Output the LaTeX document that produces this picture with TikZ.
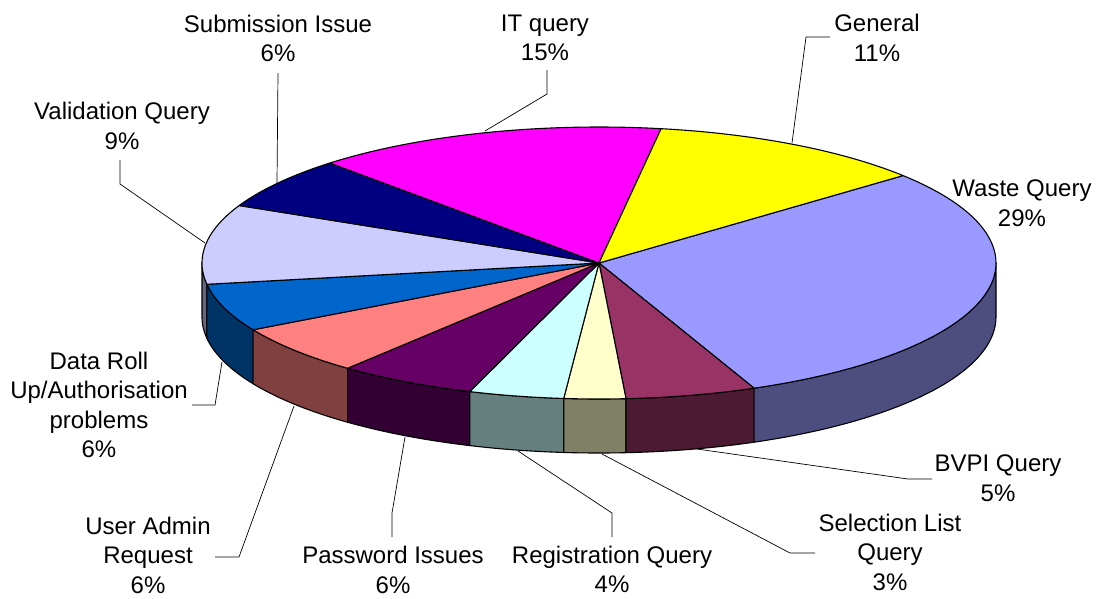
\documentclass[tikz,border=0pt]{standalone}
\usepackage{fontspec}
\setmainfont{Liberation Sans}
\definecolor{cwaste}{HTML}{9999FF}\definecolor{swaste}{HTML}{4D4D80}
\definecolor{cbvpi}{HTML}{993366}\definecolor{sbvpi}{HTML}{4D1A33}
\definecolor{csel}{HTML}{FFFFCC}\definecolor{ssel}{HTML}{808066}
\definecolor{creg}{HTML}{CCFFFF}\definecolor{sreg}{HTML}{668080}
\definecolor{cpass}{HTML}{660066}\definecolor{spass}{HTML}{330033}
\definecolor{cuser}{HTML}{FF8080}\definecolor{suser}{HTML}{804040}
\definecolor{cdata}{HTML}{0066CC}\definecolor{sdata}{HTML}{003366}
\definecolor{cvalid}{HTML}{CCCCFF}\definecolor{svalid}{HTML}{666680}
\definecolor{csub}{HTML}{000080}
\definecolor{cit}{HTML}{FF00FF}
\definecolor{cgen}{HTML}{FFFF00}
\def\cx{599}\def\cy{263}\def\rx{397}\def\ry{136}\def\dep{54}
\newcommand\slicetop[3]{\filldraw[fill=#3, piedge] (\cx,\cy) -- plot[domain=#1:#2, samples=60] ({\cx+\rx*cos(\x)},{\cy-\ry*sin(\x)}) -- cycle;}
\newcommand\sidewall[3]{\filldraw[fill=#3, piedge] plot[domain=#1:#2, samples=40] ({\cx+\rx*cos(\x)},{\cy-\ry*sin(\x)}) -- plot[domain=#2:#1, samples=40] ({\cx+\rx*cos(\x)},{\cy+\dep-\ry*sin(\x)}) -- cycle;}
\begin{document}
\begin{tikzpicture}[x=1pt,y=-1pt,
  piedge/.style={draw=black, line width=1.1pt, line join=round},
  leader/.style={draw=black, line width=0.7pt},
  lbl/.style={align=center, inner sep=0pt, font=\fontsize{24}{29.5}\selectfont}]
\useasboundingbox (0,0) rectangle (1103,598);
% side walls
\sidewall{-180}{-171}{svalid}
\sidewall{-171}{-150.6}{sdata}
\sidewall{-150.6}{-129.3}{suser}
\sidewall{-129.3}{-109}{spass}
\sidewall{-109}{-95.1}{sreg}
\sidewall{-95.1}{-86.1}{ssel}
\sidewall{-86.1}{-67}{sbvpi}
\sidewall{-67}{0}{swaste}
% top slices
\slicetop{40}{-67}{cwaste}
\slicetop{-67}{-86.1}{cbvpi}
\slicetop{-86.1}{-95.1}{csel}
\slicetop{-95.1}{-109}{creg}
\slicetop{-109}{-129.3}{cpass}
\slicetop{-129.3}{-150.6}{cuser}
\slicetop{-150.6}{-171}{cdata}
\slicetop{-171}{-205}{cvalid}
\slicetop{-205}{-227.3}{csub}
\slicetop{-227.3}{-279}{cit}
\slicetop{-279}{-320}{cgen}
% labels
\node[lbl] (lsub) at (278,38.5) {Submission Issue\\6\%};
\node[lbl] (lit) at (545,38) {IT query\\15\%};
\node[lbl] (lgen) at (877,38) {General\\11\%};
\node[lbl] (lwaste) at (1022,203) {Waste Query\\29\%};
\node[lbl] (lval) at (122,126) {Validation Query\\9\%};
\node[lbl] (ldata) at (99,405) {Data Roll\\Up/Authorisation\\problems\\6\%};
\node[lbl] (luser) at (148,555) {User Admin\\Request\\6\%};
\node[lbl] (lpass) at (393,570) {Password Issues\\6\%};
\node[lbl] (lreg) at (612,569.5) {Registration Query\\4\%};
\node[lbl] (lsel) at (890,552) {Selection List\\Query\\3\%};
\node[lbl] (lbvpi) at (998,478) {BVPI Query\\5\%};
% leader coordinates
\coordinate (subS) at (278,73); \coordinate (subE) at (277,183);
\coordinate (itS) at (547,70); \coordinate (itK) at (547,94); \coordinate (itE) at (485,131);
\coordinate (genS) at (830,37); \coordinate (genK) at (806,37); \coordinate (genE) at (792,143);
\coordinate (valS) at (120,160); \coordinate (valK) at (120,184); \coordinate (valE) at (205,243);
\coordinate (datS) at (192,405); \coordinate (datK) at (215,405); \coordinate (datE) at (222,362);
\coordinate (useS) at (215,557); \coordinate (useK) at (239,557); \coordinate (useE) at (294,406);
\coordinate (pasS) at (392,537); \coordinate (pasK) at (392,513); \coordinate (pasE) at (405,437);
\coordinate (regS) at (612,537); \coordinate (regK) at (612,513); \coordinate (regE) at (518,451);
\coordinate (selS) at (815,553); \coordinate (selK) at (790,553); \coordinate (selE) at (602,454);
\coordinate (bvpS) at (932,479); \coordinate (bvpK) at (908,479); \coordinate (bvpE) at (697,449);
\draw[leader] (subS) -- (subE);
\draw[leader] (itS) -- (itK) -- (itE);
\draw[leader] (genS) -- (genK) -- (genE);
\draw[leader] (valS) -- (valK) -- (valE);
\draw[leader] (datS) -- (datK) -- (datE);
\draw[leader] (useS) -- (useK) -- (useE);
\draw[leader] (pasS) -- (pasK) -- (pasE);
\draw[leader] (regS) -- (regK) -- (regE);
\draw[leader] (selS) -- (selK) -- (selE);
\draw[leader] (bvpS) -- (bvpK) -- (bvpE);
\end{tikzpicture}
\end{document}
